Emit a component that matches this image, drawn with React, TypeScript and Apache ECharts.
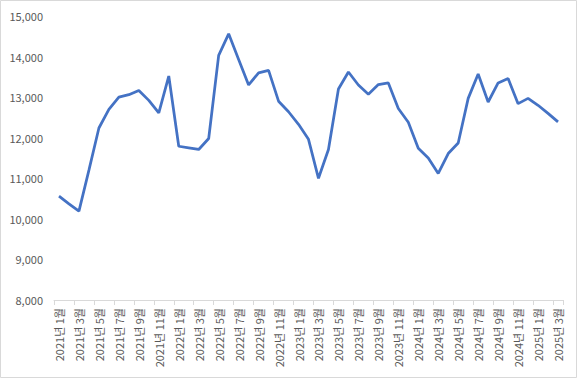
import React, { useEffect, useRef } from "react";
import * as echarts from "echarts";

const years = [2021, 2022, 2023, 2024, 2025];
const categories: string[] = [];
years.forEach((y) => {
  const last = y === 2025 ? 3 : 12;
  for (let m = 1; m <= last; m++) categories.push(`${y}년 ${m}월`);
});

const values = [
  10560, 10370, 10190, 11200, 12240, 12700, 13000, 13060, 13165, 12920,
  12610, 13520, 11790, 11750, 11710, 11980, 14030, 14560, 13930, 13300,
  13600, 13660, 12900, 12640, 12330, 11960, 11000, 11710, 13200, 13620,
  13300, 13070, 13310, 13350, 12720, 12380, 11740, 11500, 11120, 11610,
  11870, 12970, 13570, 12880, 13350, 13460, 12840, 12970, 12800, 12600,
  12390,
];

const yMin = 8000;
const yMax = 15000;
const yStep = 1000;

export default function App() {
  const ref = useRef<HTMLDivElement>(null);
  useEffect(() => {
    document.body.style.margin = "0";
    if (!ref.current) return;
    const chart = echarts.init(ref.current, null, { renderer: "svg" });
    const font = "'Noto Sans CJK KR', 'Noto Sans', sans-serif";
    chart.setOption({
      animation: false,
      backgroundColor: "#ffffff",
      textStyle: { fontFamily: font },
      graphic: [
        {
          type: "rect",
          shape: { x: 0.5, y: 0.5, width: 576, height: 377 },
          style: { fill: "none", stroke: "#d9d9d9", lineWidth: 1 },
          silent: true,
        },
      ],
      grid: { left: 54, right: 15, top: 16, bottom: 80, containLabel: false },
      xAxis: {
        type: "category",
        data: categories,
        boundaryGap: true,
        axisLine: { show: true, lineStyle: { color: "#d9d9d9", width: 1 } },
        axisTick: {
          show: true,
          interval: 1,
          length: 5,
          lineStyle: { color: "#d9d9d9" },
        },
        axisLabel: {
          interval: 1,
          rotate: 90,
          fontSize: 11,
          color: "#595959",
          margin: 8,
          fontFamily: font,
        },
        splitLine: { show: false },
      },
      yAxis: {
        type: "value",
        min: yMin,
        max: yMax,
        interval: yStep,
        axisLine: { show: false },
        axisTick: { show: false },
        splitLine: { show: false },
        axisLabel: {
          fontSize: 11,
          color: "#595959",
          margin: 11,
          fontFamily: font,
          formatter: (v: number) => v.toLocaleString("en-US"),
        },
      },
      series: [
        {
          type: "line",
          data: values,
          symbol: "none",
          lineStyle: { color: "#4472C4", width: 2.75 },
          itemStyle: { color: "#4472C4" },
        },
      ],
    });
    return () => chart.dispose();
  }, []);
  return <div ref={ref} style={{ width: 578, height: 380 }} />;
}
